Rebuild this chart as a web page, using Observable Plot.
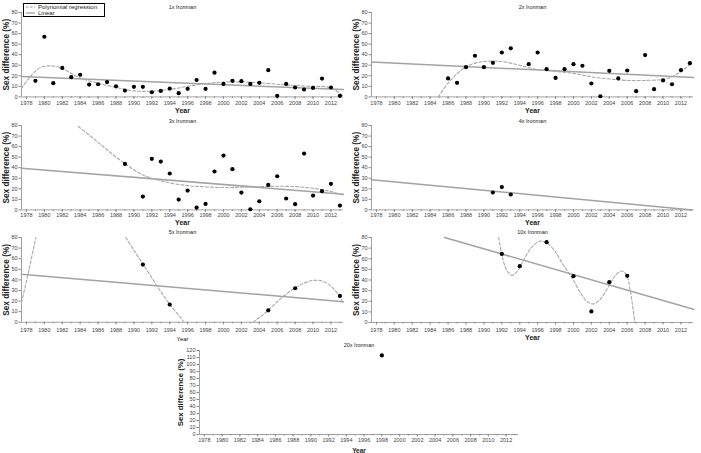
<!DOCTYPE html>
<html><head><meta charset="utf-8">
<script src="https://cdn.jsdelivr.net/npm/d3@7"></script>
<script src="https://cdn.jsdelivr.net/npm/@observablehq/plot@0.6"></script>
<style>
body{margin:0;background:#fff;}
#chart{position:relative;width:701px;height:453px;overflow:hidden;background:#fff;font-family:"Liberation Sans",Arial,sans-serif;}
#chart svg{position:absolute;overflow:visible;}
#legend{position:absolute;left:23px;top:3px;width:80px;height:12px;border:0.8px solid #000;background:#fff;font-size:6px;line-height:6px;color:#222;}
#legend .row{display:flex;align-items:center;height:6px;}
#legend svg{position:static;margin:0 3px 0 2px;}
</style></head><body>
<div id="chart">
<div id="legend">
 <div class="row"><svg width="9" height="4"><line x1="0" y1="2" x2="9" y2="2" stroke="#999" stroke-width="1" stroke-dasharray="2.5,1.5"/></svg>Polynomial regression</div>
 <div class="row"><svg width="9" height="4"><line x1="0" y1="2" x2="9" y2="2" stroke="#999" stroke-width="1.2"/></svg>Linear</div>
</div>
</div>
<script>
// ---------- data ----------
const xDomain = [1977.45, 2013.4];
const yearLabels = [1978,1980,1982,1984,1986,1988,1990,1992,1994,1996,1998,2000,2002,2004,2006,2008,2010,2012];
const yearMinor = [1978,1979,1980,1981,1982,1983,1984,1985,1986,1987,1988,1989,1990,1991,1992,1993,1994,1995,1996,1997,1998,1999,2000,2001,2002,2003,2004,2005,2006,2007,2008,2009,2010,2011,2012,2013];
const yTicks80 = [0,10,20,30,40,50,60,70,80];
const yTicks120 = [0,10,20,30,40,50,60,70,80,90,100,110,120];

// 1x Ironman
const years1x = [1979,1980,1981,1982,1983,1984,1985,1986,1987,1988,1989,1990,1991,1992,1993,1994,1995,1996,1997,1998,1999,2000,2001,2002,2003,2004,2005,2006,2007,2008,2009,2010,2011,2012,2013];
const diff1x = [15.2,57,13,27.5,18.7,21,11.7,12,14,10,6,9.5,9.5,4.4,5.7,7.9,3.5,7.6,16,7.6,23,12.3,15.2,14.9,12.3,13.3,25.3,1,12.3,8.9,7,8.5,17.4,8.9,1];
const poly1xYear = [1977.45,1978.5,1979.5,1980.5,1981.5,1982.5,1984,1986,1988,1990,1992,1994,1996,1998,2000,2002,2004,2006,2008,2010,2011.8,2013.3];
const poly1xDiff = [8,20,27.5,29.4,28.5,24.7,18,13,9,5.7,5.4,7,10,12.6,14,14.2,13.3,12,10.8,10,9,1.5];
const lin1xYear = [1977.45,2013.4];
const lin1xDiff = [19.3,7];

// 2x Ironman
const years2x = [1986,1987,1988,1989,1990,1991,1992,1993,1995,1996,1997,1998,1999,2000,2001,2002,2003,2004,2005,2006,2007,2008,2009,2010,2011,2012,2013];
const diff2x = [17.5,13.3,28.2,39,28.2,32.3,42.1,46,31,42.1,26.3,18,26.3,31,29.5,12.7,0.6,24.7,17.5,25,5.4,39.6,7.3,15.6,12,25.3,32];
const poly2xYear = [1984.9,1986,1987,1988,1989,1990,1991,1992,1993,1994,1995,1996,1998,2000,2002,2004,2006,2008,2010,2011,2012,2013.2];
const poly2xDiff = [0,13,22,28.5,32,33.5,34,33.5,32,30,27.7,25.8,24.2,22.3,19,17,15.6,15.6,16.6,19,24,32];
const lin2xYear = [1977.45,2013.4];
const lin2xDiff = [33,18.4];

// 3x Ironman
const years3x = [1989,1991,1992,1993,1994,1995,1996,1997,1998,1999,2000,2001,2002,2003,2004,2005,2006,2007,2008,2009,2010,2011,2012,2013];
const diff3x = [43.6,12.6,48.4,45.8,34.5,9.8,18.3,2.2,5.7,36.4,51.5,38.6,16.4,0.6,8.2,23.7,31.9,10.8,5.4,53.4,13.6,17.7,24.7,4.1];
const poly3xYear = [1983.8,1985,1986,1987,1988,1989,1990,1991,1992,1994,1996,1998,2000,2002,2004,2006,2008,2010,2012,2013.3];
const poly3xDiff = [79,71,64,57,50,44,38,33,30,25.6,23,21.8,21.2,21.5,22,22.4,22,20.5,17.4,14.2];
const lin3xYear = [1977.45,2013.4];
const lin3xDiff = [39.5,14.9];

// 4x Ironman
const years4x = [1991,1992,1993];
const diff4x = [16.5,21.6,14.6];
const lin4xYear = [1977.45,2013.3];
const lin4xDiff = [28.6,0];

// 5x Ironman
const years5x = [1991,1994,2005,2008,2013];
const diff5x = [54.5,16.7,11.3,32.1,24.9];
const poly5xYear = [1977.45,1978.3,1979.05, 1989.1,1990,1991,1992,1993,1994,1995,1995.6, 2003.3,2004,2005,2006,2007,2008,2009,2010,2011,2012,2013,2013.3];
const poly5xDiff = [18.6,50,80, 80,68,55,42,29,17,6.5,0, 0,4.5,11.3,19.5,26.5,32.5,37,39.5,39,34,24,19];
const poly5xPiece = [1,1,1, 2,2,2,2,2,2,2,2, 3,3,3,3,3,3,3,3,3,3,3,3];
const lin5xYear = [1977.45,2013.4];
const lin5xDiff = [45.4,19.5];

// 10x Ironman
const years10x = [1992,1994,1997,2000,2002,2004,2006];
const diff10x = [64.6,53,75.6,43.6,10.4,38,43.9];
const poly10xYear = [1991.65,1992,1992.5,1993.1,1993.7,1994.4,1995.3,1996.2,1996.9,1997.9,1998.8,1999.85,2000.7,2001.5,2002.2,2002.9,2003.5,2004.2,2004.8,2005.4,2005.9,2006.3,2006.6,2006.85];
const poly10xDiff = [80,64,50,44.5,48,58,70.5,76.5,75.5,67.5,55,42,29,20,17.5,21,28,38,45.5,48.5,45,32,16,0];
const lin10xYear = [1985.6,2013.4];
const lin10xDiff = [80,12.5];

// 20x Ironman
const years20x = [1998];
const diff20x = [113];

// ---------- drawing ----------
const rows = (xs, ys, zs) => xs.map((x, i) => ({x, y: ys[i], z: zs ? zs[i] : 0}));
const chart = document.getElementById("chart");

function panel(cfg) {
  const mL = 26, mR = 10, mT = 12, mB = 22;
  const yMax = cfg.yTicks[cfg.yTicks.length - 1];
  const axisColor = "#8a8a8a";
  const txt = {text: d => d, textAnchor: "middle", lineAnchor: "middle", fill: "#222"};
  const marks = [
    Plot.ruleY([0], {stroke: axisColor, strokeWidth: 0.8}),
    Plot.ruleX([xDomain[0]], {y1: 0, y2: yMax, stroke: axisColor, strokeWidth: 0.8}),
    Plot.axisX(yearMinor, {tickSize: 1.5, tickFormat: () => "", label: null, stroke: axisColor}),
    Plot.axisX(yearLabels, {tickSize: 2.5, tickPadding: cfg.tickPad, tickFormat: d => String(d), label: null, stroke: axisColor, fill: "#444"}),
    Plot.axisY(cfg.yTicks, {tickSize: 2.5, tickPadding: 1.5, label: null, stroke: axisColor, fill: "#444"}),
    Plot.text([cfg.title], {...txt, frameAnchor: "top", dy: -cfg.titleOff, fontSize: 5.5}),
    Plot.text(["Sex difference (%)"], {...txt, frameAnchor: "left", rotate: -90, dx: -cfg.ylabOff, fontSize: cfg.ylabSize, fontWeight: "bold"}),
    Plot.text(["Year"], {...txt, frameAnchor: "bottom", dy: cfg.xlabOff, fontSize: cfg.xlabSize, fontWeight: cfg.xlabWeight || "bold"})
  ];
  if (cfg.lin) marks.push(Plot.line(cfg.lin, {x: "x", y: "y", stroke: "#a3a3a3", strokeWidth: 1.5}));
  if (cfg.poly) marks.push(Plot.line(cfg.poly, {x: "x", y: "y", z: "z", stroke: "#a8a8a8", strokeWidth: 1.1, strokeDasharray: "3,2", curve: "catmull-rom", clip: true}));
  marks.push(Plot.dot(cfg.pts, {x: "x", y: "y", r: 2.1, fill: "#000", stroke: "none"}));
  const svg = Plot.plot({
    width: cfg.w + mL + mR, height: cfg.h + mT + mB,
    marginLeft: mL, marginRight: mR, marginTop: mT, marginBottom: mB,
    x: {domain: xDomain}, y: {domain: [0, yMax]},
    style: {fontFamily: "'Liberation Sans', Arial, sans-serif", fontSize: "5.5px", color: "#444", background: "transparent", overflow: "visible"},
    marks
  });
  svg.style.left = (cfg.left - mL) + "px";
  svg.style.top = (cfg.top - mT) + "px";
  chart.insertBefore(svg, document.getElementById("legend"));
}

const common = {yTicks: yTicks80, w: 322, h: 84.4, ylabOff: 15.5, ylabSize: 8.3, xlabSize: 7};
panel({...common, title: "1x Ironman", left: 21, top: 12.3, tickPad: 1.8, titleOff: 5.3, xlabOff: 14.3,
  pts: rows(years1x, diff1x), poly: rows(poly1xYear, poly1xDiff), lin: rows(lin1xYear, lin1xDiff)});
panel({...common, title: "2x Ironman", left: 371, top: 12.3, tickPad: 1.8, titleOff: 5.3, xlabOff: 14.3,
  pts: rows(years2x, diff2x), poly: rows(poly2xYear, poly2xDiff), lin: rows(lin2xYear, lin2xDiff)});
panel({...common, title: "3x Ironman", left: 21, top: 125, tickPad: 0.6, titleOff: 4.3, xlabOff: 12.6,
  pts: rows(years3x, diff3x), poly: rows(poly3xYear, poly3xDiff), lin: rows(lin3xYear, lin3xDiff)});
panel({...common, title: "4x Ironman", left: 371, top: 125, tickPad: 0.6, titleOff: 4.3, xlabOff: 12.6,
  pts: rows(years4x, diff4x), lin: rows(lin4xYear, lin4xDiff)});
panel({...common, title: "5x Ironman", left: 21, top: 236.7, h: 84.8, tickPad: 2.8, titleOff: 5, xlabOff: 16.5, xlabSize: 6, xlabWeight: "normal",
  pts: rows(years5x, diff5x), poly: rows(poly5xYear, poly5xDiff, poly5xPiece), lin: rows(lin5xYear, lin5xDiff)});
panel({...common, title: "10x Ironman", left: 371, top: 236.7, h: 85, tickPad: 2.8, titleOff: 5, xlabOff: 15.6,
  pts: rows(years10x, diff10x), poly: rows(poly10xYear, poly10xDiff), lin: rows(lin10xYear, lin10xDiff)});
panel({yTicks: yTicks120, w: 319, h: 84, ylabOff: 19, ylabSize: 7.8, xlabSize: 6.5, title: "20x Ironman", left: 199.3, top: 350, tickPad: 1.5, titleOff: 5, xlabOff: 16,
  pts: rows(years20x, diff20x)});
</script>
</body></html>
